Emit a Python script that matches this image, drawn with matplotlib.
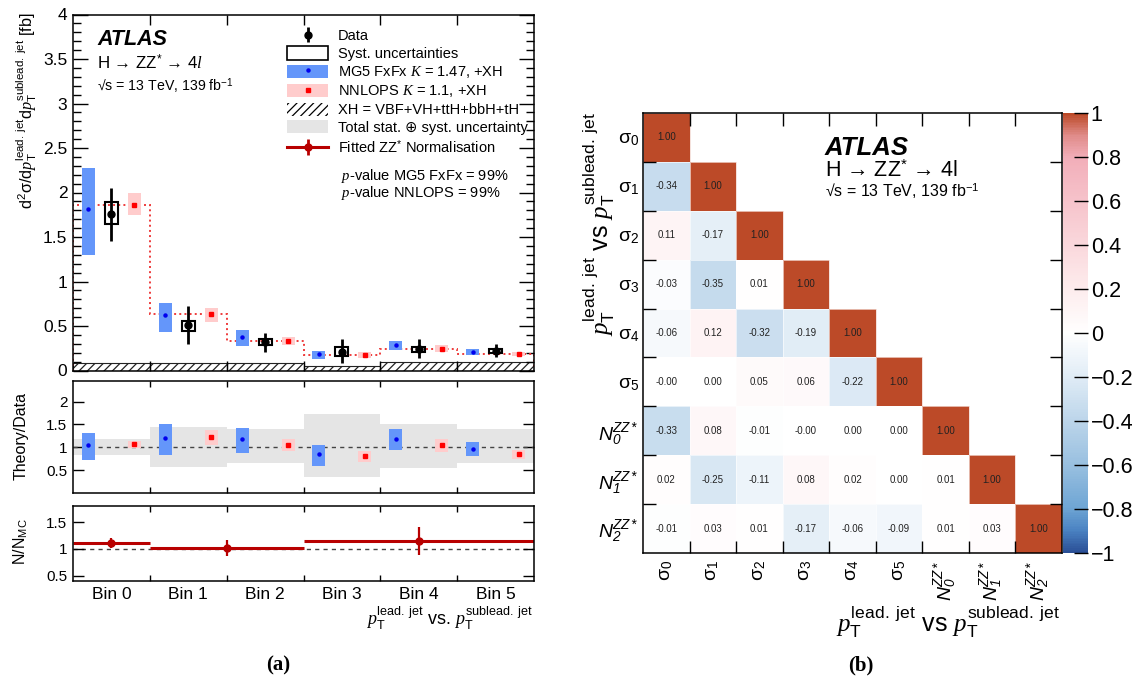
import numpy as np
import matplotlib
matplotlib.use('Agg')
import matplotlib.pyplot as plt
from matplotlib.patches import Patch
from matplotlib.lines import Line2D
from matplotlib.colors import LinearSegmentedColormap
from matplotlib.ticker import FuncFormatter, MultipleLocator, FixedLocator, NullFormatter

plt.rcParams['font.family'] = ['Liberation Sans', 'DejaVu Sans']
plt.rcParams['mathtext.fontset'] = 'custom'
plt.rcParams['mathtext.rm'] = 'Liberation Sans'
plt.rcParams['mathtext.it'] = 'Liberation Serif:italic'
plt.rcParams['mathtext.bf'] = 'Liberation Sans:bold'
plt.rcParams['mathtext.sf'] = 'Liberation Sans:italic'
plt.rcParams['hatch.linewidth'] = 0.9
plt.rcParams['axes.linewidth'] = 1.1

# ---------------- data: left panel (a) ----------------
bin_labels = ['Bin 0', 'Bin 1', 'Bin 2', 'Bin 3', 'Bin 4', 'Bin 5']
data_val = [1.756, 0.51, 0.32, 0.213, 0.24, 0.221]
data_lo = [1.46, 0.30, 0.21, 0.086, 0.138, 0.15]
data_hi = [2.05, 0.73, 0.42, 0.355, 0.356, 0.303]
syst_lo = [1.65, 0.44, 0.285, 0.168, 0.21, 0.20]
syst_hi = [1.89, 0.56, 0.355, 0.26, 0.266, 0.24]
mg5_val = [1.82, 0.62, 0.374, 0.18, 0.289, 0.21]
mg5_lo = [1.30, 0.43, 0.27, 0.124, 0.225, 0.172]
mg5_hi = [2.27, 0.76, 0.45, 0.217, 0.337, 0.247]
nnlops_val = [1.865, 0.63, 0.33, 0.172, 0.247, 0.186]
nnlops_lo = [1.745, 0.55, 0.285, 0.14, 0.21, 0.16]
nnlops_hi = [1.99, 0.70, 0.375, 0.205, 0.285, 0.21]
xh_val = [0.085, 0.085, 0.087, 0.055, 0.10, 0.10]

# ratio panel (theory / data)
tot_lo = [0.83, 0.56, 0.654, 0.354, 0.54, 0.655]
tot_hi = [1.185, 1.446, 1.40, 1.72, 1.52, 1.41]
mg5_ratio = [1.04, 1.21, 1.185, 0.846, 1.19, 0.97]
mg5_ratio_lo = [0.73, 0.83, 0.877, 0.59, 0.94, 0.81]
mg5_ratio_hi = [1.31, 1.50, 1.43, 1.04, 1.41, 1.11]
nnlops_ratio = [1.07, 1.23, 1.046, 0.81, 1.04, 0.85]
nnlops_ratio_lo = [0.99, 1.06, 0.91, 0.67, 0.89, 0.75]
nnlops_ratio_hi = [1.14, 1.38, 1.18, 0.92, 1.18, 0.94]

# fitted ZZ* normalisation
norm_first_edge = [0, 1, 3]
norm_last_edge = [1, 3, 6]
norm_val = [1.11, 1.01, 1.15]
norm_err = [0.09, 0.15, 0.26]

# ---------------- data: right panel (b) ----------------
corr_labels = [r'$\mathrm{σ}_{0}$', r'$\mathrm{σ}_{1}$', r'$\mathrm{σ}_{2}$',
               r'$\mathrm{σ}_{3}$', r'$\mathrm{σ}_{4}$', r'$\mathrm{σ}_{5}$',
               r'$\mathsf{N}^{\mathsf{ZZ*}}_{\mathsf{0}}$',
               r'$\mathsf{N}^{\mathsf{ZZ*}}_{\mathsf{1}}$',
               r'$\mathsf{N}^{\mathsf{ZZ*}}_{\mathsf{2}}$']
corr_rows = [
    [1.00],
    [-0.34, 1.00],
    [0.11, -0.17, 1.00],
    [-0.03, -0.35, 0.01, 1.00],
    [-0.06, 0.12, -0.32, -0.19, 1.00],
    [-0.0, 0.00, 0.05, 0.06, -0.22, 1.00],
    [-0.33, 0.08, -0.01, -0.0, 0.00, 0.00, 1.00],
    [0.02, -0.25, -0.11, 0.08, 0.02, 0.00, 0.01, 1.00],
    [-0.01, 0.03, 0.01, -0.17, -0.06, -0.09, 0.01, 0.03, 1.00],
]

# ---------------- styles ----------------
BLUE = '#6496fa'
PINK = '#ffcccc'
GREY = '#e5e5e5'
DRED = '#b80000'

W, H = 1148, 687
fig = plt.figure(figsize=(W / 100, H / 100), dpi=100)


def px_axes(l, t, r, b):
    return fig.add_axes([l / W, 1 - b / H, (r - l) / W, (b - t) / H])


ax = px_axes(73, 14.5, 534, 370.5)
axr = px_axes(73, 381, 534, 493)
axn = px_axes(73, 506, 534, 581)
axm = px_axes(643, 113, 1062, 553)
cax = px_axes(1063, 113, 1088, 553)

nb = len(bin_labels)
edges = np.arange(nb + 1)
idx = np.arange(nb)
x_mg5 = idx + 0.2
x_dat = idx + 0.5
x_nn = idx + 0.8
bw = 0.17
gfmt = FuncFormatter(lambda v, p: '%g' % round(v, 2))

# ---------------- main panel ----------------
ax.bar(idx + 0.5, xh_val, width=1.0, color='white', edgecolor='#222222',
       hatch='////', linewidth=0.8, zorder=1)
ax.stairs(nnlops_val, edges, color='#ee3b3b', linestyle=':', linewidth=1.4, zorder=2)
ax.bar(x_mg5, np.subtract(mg5_hi, mg5_lo), bottom=mg5_lo, width=bw,
       color=BLUE, edgecolor='none', zorder=3)
ax.plot(x_mg5, mg5_val, ls='none', marker='o', ms=2.2, color='#0000ee', zorder=4)
ax.bar(x_nn, np.subtract(nnlops_hi, nnlops_lo), bottom=nnlops_lo, width=bw,
       color=PINK, edgecolor='none', zorder=3)
ax.plot(x_nn, nnlops_val, ls='none', marker='s', ms=3.5, color='#ff0000', zorder=4)
ax.bar(x_dat, np.subtract(syst_hi, syst_lo), bottom=syst_lo, width=bw,
       fill=False, edgecolor='black', linewidth=1.5, zorder=5)
derr = [np.subtract(data_val, data_lo), np.subtract(data_hi, data_val)]
h_data = ax.errorbar(x_dat, data_val, yerr=derr, fmt='o', color='black', ms=5,
                     elinewidth=2.0, capsize=0, zorder=6)

ax.set_xlim(0, nb)
ax.set_ylim(0, 4)
ax.xaxis.set_major_locator(FixedLocator(edges[1:-1]))
ax.xaxis.set_major_formatter(NullFormatter())
ax.yaxis.set_major_locator(MultipleLocator(0.5))
ax.yaxis.set_minor_locator(MultipleLocator(0.1))
ax.yaxis.set_major_formatter(gfmt)
ax.tick_params(axis='x', which='both', direction='in', top=True, bottom=True, length=7, width=1)
ax.tick_params(axis='y', which='major', direction='in', left=True, right=True, length=11,
               width=1, labelsize=12.5, pad=4)
ax.tick_params(axis='y', which='minor', direction='in', left=True, right=True, length=6, width=1)

ax.text(0.052, 0.914, 'ATLAS', transform=ax.transAxes, fontsize=15.5,
        fontweight='bold', fontstyle='italic', va='baseline')
ax.text(0.052, 0.847, 'H → ZZ$^{*}$ → 4$l$', transform=ax.transAxes, fontsize=12.2,
        va='baseline')
ax.text(0.052, 0.785, '√s = 13 TeV, 139 fb$^{-1}$', transform=ax.transAxes, fontsize=10.2,
        va='baseline')

h_syst = Patch(facecolor='white', edgecolor='black', linewidth=1.2)
h_mg5 = (Patch(facecolor=BLUE, edgecolor='none'),
         Line2D([], [], ls='none', marker='o', ms=2.2, color='#0000ee'))
h_nn = (Patch(facecolor=PINK, edgecolor='none'),
        Line2D([], [], ls='none', marker='s', ms=3.5, color='#ff0000'))
h_xh = Patch(facecolor='white', edgecolor='black', hatch='////', linewidth=0)
h_tot = Patch(facecolor=GREY, edgecolor='none')
h_fit = (Line2D([], [], color=DRED, lw=2.2),
         Line2D([], [], ls='none', marker='o', ms=5, color=DRED),
         Line2D([], [], ls='none', marker='|', ms=12, mew=2, color=DRED))
leg = ax.legend([h_data, h_syst, h_mg5, h_nn, h_xh, h_tot, h_fit],
                ['Data', 'Syst. uncertainties', 'MG5 FxFx $K$ = 1.47, +XH',
                 'NNLOPS $K$ = 1.1, +XH', 'XH = VBF+VH+ttH+bbH+tH',
                 'Total stat. ⊕ syst. uncertainty', 'Fitted ZZ$^{*}$ Normalisation'],
                loc='upper left', bbox_to_anchor=(0.464, 0.96), frameon=False,
                fontsize=10.5, handlelength=2.85, handleheight=1.0, labelspacing=0.22,
                handletextpad=0.62, borderpad=0, borderaxespad=0)
ax.text(0.581, 0.547, '$p$-value MG5 FxFx = 99%', transform=ax.transAxes, fontsize=10.5,
        va='center')
ax.text(0.581, 0.499, '$p$-value NNLOPS = 99%', transform=ax.transAxes, fontsize=10.5,
        va='center')

fig.text(27 / W, 1 - 12 / H,
         r'$\mathrm{d^2σ/d}p_{\mathrm{T}}^{\mathrm{lead.\ jet}}\mathrm{d}p_{\mathrm{T}}^{\mathrm{sublead.\ jet}}$ [fb]',
         rotation=90, ha='center', va='top', fontsize=11.8)

# ---------------- ratio panel ----------------
axr.stairs(tot_hi, edges, baseline=tot_lo, fill=True, color=GREY, linewidth=0, zorder=1)
axr.axhline(1.0, color='#444444', ls=(0, (3, 3)), lw=1.0, zorder=2)
axr.bar(x_mg5, np.subtract(mg5_ratio_hi, mg5_ratio_lo), bottom=mg5_ratio_lo, width=bw,
        color=BLUE, edgecolor='none', zorder=3)
axr.plot(x_mg5, mg5_ratio, ls='none', marker='o', ms=2.2, color='#0000ee', zorder=4)
axr.bar(x_nn, np.subtract(nnlops_ratio_hi, nnlops_ratio_lo), bottom=nnlops_ratio_lo,
        width=bw, color=PINK, edgecolor='none', zorder=3)
axr.plot(x_nn, nnlops_ratio, ls='none', marker='s', ms=3.5, color='#ff0000', zorder=4)
axr.set_xlim(0, nb)
axr.set_ylim(0, 2.45)
axr.set_yticks([0.5, 1, 1.5, 2])
axr.yaxis.set_major_formatter(gfmt)
axr.xaxis.set_major_locator(FixedLocator(edges[1:-1]))
axr.xaxis.set_major_formatter(NullFormatter())
axr.tick_params(axis='x', direction='in', top=True, bottom=True, length=4, width=1)
axr.tick_params(axis='y', direction='in', left=True, right=True, length=8, width=1,
                labelsize=11, pad=4)
fig.text(21 / W, 1 - 436 / H, 'Theory/Data', rotation=90, ha='center', va='center',
         fontsize=11.5)

# ---------------- normalisation panel ----------------
axn.axhline(1.0, color='#444444', ls=(0, (3, 3)), lw=1.0, zorder=1)
axn.hlines(norm_val, norm_first_edge, norm_last_edge, color=DRED, lw=2.2, zorder=2)
norm_x = (np.array(norm_first_edge) + np.array(norm_last_edge)) / 2
axn.errorbar(norm_x, norm_val, yerr=norm_err, fmt='o', color=DRED, ms=5,
             elinewidth=1.6, capsize=0, zorder=3)
axn.set_xlim(0, nb)
axn.set_ylim(0.4, 1.8)
axn.set_yticks([0.5, 1, 1.5])
axn.yaxis.set_major_formatter(gfmt)
axn.xaxis.set_major_locator(FixedLocator(edges[1:-1]))
axn.xaxis.set_major_formatter(NullFormatter())
axn.xaxis.set_minor_locator(FixedLocator(idx + 0.5))
axn.xaxis.set_minor_formatter(FuncFormatter(lambda v, p: bin_labels[int(v)]))
axn.tick_params(axis='x', which='major', direction='in', top=True, bottom=True, length=4, width=1)
axn.tick_params(axis='x', which='minor', length=0, labelsize=12.5, pad=4)
axn.tick_params(axis='y', direction='in', left=True, right=True, length=8, width=1,
                labelsize=11, pad=4)
fig.text(21 / W, 1 - 542 / H, 'N/N$_{\\mathrm{MC}}$', rotation=90, ha='center',
         va='center', fontsize=11.5)

fig.text(533 / W, 1 - 618 / H,
         r'$p_{\mathrm{T}}^{\mathrm{lead.\ jet}}$ vs. $p_{\mathrm{T}}^{\mathrm{sublead.\ jet}}$',
         ha='right', va='center', fontsize=13)
fig.text(278 / W, 1 - 665 / H, '(a)', ha='center', va='center', fontsize=15,
         fontweight='bold', family='Liberation Serif')

# ---------------- correlation matrix ----------------
n = len(corr_labels)
mat = np.full((n, n), np.nan)
for i, row in enumerate(corr_rows):
    for j, v in enumerate(row):
        mat[i, j] = v
mmat = np.ma.masked_invalid(mat)

cmap = LinearSegmentedColormap.from_list('atlas_corr', [
    (0.00, '#2a4f96'), (0.05, '#4a82c2'), (0.10, '#6ea5d4'), (0.20, '#99c0e0'),
    (0.30, '#bcd5ea'), (0.40, '#e0ecf6'), (0.50, '#ffffff'), (0.60, '#fdeced'),
    (0.70, '#fad8dc'), (0.80, '#f6c3cb'), (0.90, '#f2aeb9'), (0.95, '#e08c8a'),
    (1.00, '#bc4a28')])

mesh = axm.pcolormesh(np.arange(n + 1), np.arange(n + 1), mmat, cmap=cmap, vmin=-1, vmax=1,
                      edgecolors=(1, 1, 1, 0.6), linewidth=0.4)
for i, row in enumerate(corr_rows):
    for j, v in enumerate(row):
        axm.text(j + 0.5, i + 0.5, '%.2f' % v, ha='center', va='center', fontsize=7,
                 color='#222222')
axm.set_xlim(0, n)
axm.set_ylim(n, 0)
axm.xaxis.set_major_locator(FixedLocator(np.arange(1, n)))
axm.yaxis.set_major_locator(FixedLocator(np.arange(1, n)))
axm.xaxis.set_major_formatter(NullFormatter())
axm.yaxis.set_major_formatter(NullFormatter())
axm.xaxis.set_minor_locator(FixedLocator(np.arange(n) + 0.5))
axm.yaxis.set_minor_locator(FixedLocator(np.arange(n) + 0.5))
axm.xaxis.set_minor_formatter(FuncFormatter(lambda v, p: corr_labels[int(v)]))
axm.yaxis.set_minor_formatter(FuncFormatter(lambda v, p: corr_labels[int(v)]))
axm.tick_params(which='major', direction='in', top=True, bottom=True, left=True, right=True,
                length=9, width=1)
axm.tick_params(which='minor', length=0)
axm.tick_params(axis='x', which='minor', labelsize=14, pad=5, labelrotation=90)
axm.tick_params(axis='y', which='minor', labelsize=14, pad=3)

axm.text(0.434, 0.9045, 'ATLAS', transform=axm.transAxes, fontsize=18.5,
         fontweight='bold', fontstyle='italic', va='baseline')
axm.text(0.434, 0.8545, 'H → ZZ$^{*}$ → 4l', transform=axm.transAxes, fontsize=15.5,
         va='baseline')
axm.text(0.434, 0.809, '√s = 13 TeV, 139 fb$^{-1}$', transform=axm.transAxes, fontsize=11.5,
         va='baseline')

cb = fig.colorbar(mesh, cax=cax, ticks=np.linspace(-1, 1, 11))
cb.outline.set_linewidth(0)
cb.ax.yaxis.set_major_formatter(FuncFormatter(
    lambda v, p: ('%g' % round(v, 1)).replace('-', '\u2212') if abs(v) > 1e-9 else '0'))
cax.tick_params(direction='in', length=10, width=1, labelsize=15.5, pad=2, right=True)

fig.text(599 / W, 1 - 112 / H,
         r'$p_{\mathrm{T}}^{\mathrm{lead.\ jet}}$ vs $p_{\mathrm{T}}^{\mathrm{sublead.\ jet}}$',
         rotation=90, ha='center', va='top', fontsize=18)
fig.text(1060 / W, 1 - 622 / H,
         r'$p_{\mathrm{T}}^{\mathrm{lead.\ jet}}$ vs $p_{\mathrm{T}}^{\mathrm{sublead.\ jet}}$',
         ha='right', va='center', fontsize=18)
fig.text(861 / W, 1 - 665 / H, '(b)', ha='center', va='center', fontsize=15,
         fontweight='bold', family='Liberation Serif')

fig.savefig('out.png', dpi=100)
